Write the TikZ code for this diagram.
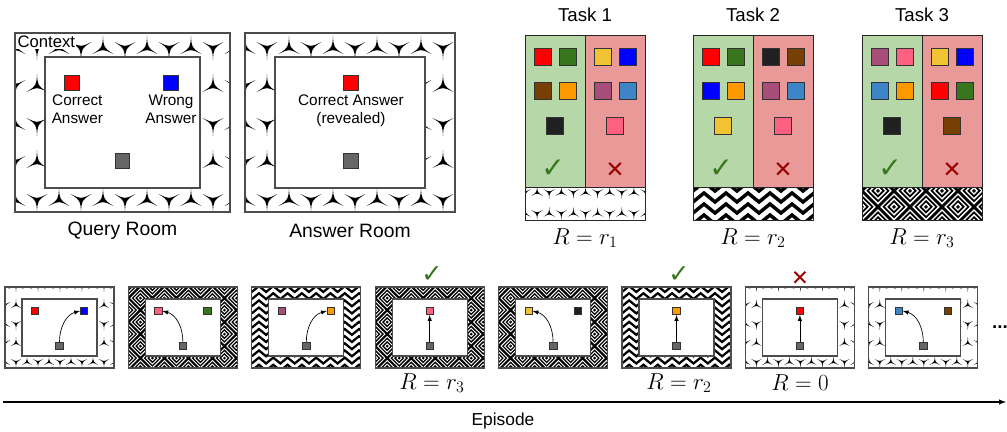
\documentclass[tikz,border=0pt]{standalone}
\usepackage{fontspec}
\setmainfont{Liberation Sans}
\newfontfamily\symfont{DejaVu Sans}
\usetikzlibrary{positioning}

\definecolor{cred}{HTML}{FF0000}
\definecolor{cgreen}{HTML}{38761D}
\definecolor{cbrown}{HTML}{783F04}
\definecolor{corange}{HTML}{FF9900}
\definecolor{cblack}{HTML}{202020}
\definecolor{cyellow}{HTML}{F1C232}
\definecolor{cblue}{HTML}{0000FF}
\definecolor{cpurple}{HTML}{A64D79}
\definecolor{csteel}{HTML}{3D85C6}
\definecolor{cpink}{HTML}{FF607F}
\definecolor{cgray}{HTML}{666666}
\definecolor{okfill}{HTML}{B6D7A8}
\definecolor{badfill}{HTML}{EA9999}
\definecolor{okmark}{HTML}{38761D}
\definecolor{badmark}{HTML}{990000}

% context textures, drawn into the box \bxa,\byt,\bxb,\byb
\newcommand{\patY}[1]{%
  \pgfmathtruncatemacro{\ni}{((\bxb)-(\bxa))/(22*#1)+1}%
  \pgfmathtruncatemacro{\nj}{((\byt)-(\byb))/(38*#1)+1}%
  \foreach \i in {0,...,\ni}{\foreach \j in {0,...,\nj}{%
    \pgfmathsetmacro{\rot}{180*mod(\i+\j,2)}%
    \fill[shift={(\bxa+\i*22*#1,\byb+12*#1+\j*38*#1)},rotate=\rot,scale=#1]
      (90:12) .. controls (150:0.8) .. (210:12) .. controls (270:0.8) .. (330:12) .. controls (30:0.8) .. cycle;
  }}}
\newcommand{\patZ}[1]{%
  \pgfmathtruncatemacro{\ni}{((\bxb)-(\bxa))/(22*#1)+1}%
  \pgfmathtruncatemacro{\nj}{((\byt)-(\byb))/(11*#1)+2}%
  \foreach \j in {0,...,\nj}{%
    \draw[line width=#1*2.6pt] (\bxa,\byb+\j*11*#1-4*#1)
      \foreach \i in {0,...,\ni}{ -- ++(11*#1,9*#1) -- ++(11*#1,-9*#1)};
  }}
\newcommand{\patD}[1]{%
  \pgfmathtruncatemacro{\ni}{((\bxb)-(\bxa))/(40*#1)+1}%
  \pgfmathtruncatemacro{\nj}{((\byt)-(\byb))/(40*#1)+1}%
  \foreach \i in {0,...,\ni}{\foreach \j in {-1,...,\nj}{%
    \foreach \o in {0,20}{
    \foreach \d in {19,13,7,1}
      \draw[line width=#1*1.6pt,shift={(\bxa+\i*40*#1+\o*#1,\byb+\j*40*#1+16.5*#1+\o*#1)},scale=#1]
        (-\d,0) -- (0,-\d) -- (\d,0) -- (0,\d) -- cycle;
  }}}}
\newcommand{\patbox}[5]{%
  \begin{scope}
    \clip (#1,#2) rectangle (#3,#4);
    \def\bxa{#1}\def\byt{#2}\def\bxb{#3}\def\byb{#4}%
    #5
  \end{scope}}
% room with textured wall: x1, ytop, x2, ybot, wall x, wall y, texture
\newcommand{\ctxbox}[7]{%
  \patbox{#1}{#2}{#3}{#4}{#7}
  \fill[white] (#1+#5,#2-#6) rectangle (#3-#5,#4+#6);
  \draw[wall] (#1+#5,#2-#6) rectangle (#3-#5,#4+#6);
  \draw[wall] (#1,#2) rectangle (#3,#4);}

\tikzset{
  wall/.style={draw=black!70,line width=0.9pt},
  panel/.style={draw=black!85,line width=0.6pt},
  sq/.style={draw=black!80,fill=#1,line width=0.6pt,inner sep=0pt,minimum size=12.5pt},
  bsq/.style={sq=#1,minimum size=11pt},
  ssq/.style={sq=#1,minimum size=5.6pt,line width=0.45pt},
  lbl/.style={font=\fontsize{11.5}{13.5}\selectfont,align=center,inner sep=0pt},
  roomname/.style={font=\fontsize{14.5}{17}\selectfont},
  taskname/.style={font=\fontsize{14}{17}\selectfont},
  rew/.style={font=\fontsize{17}{20}\selectfont},
  okmk/.style={text=okmark,font=\symfont\fontsize{#1}{#1}\selectfont,inner sep=0pt},
  badmk/.style={text=badmark,font=\symfont\fontsize{#1}{#1}\selectfont,inner sep=0pt},
  arr/.style={line width=0.5pt},
}

\begin{document}
\begin{tikzpicture}[x=0.75pt,y=0.75pt,>=latex]
\useasboundingbox (0,0) rectangle (1007,-432);

% query room
\ctxbox{15}{-33}{230}{-212}{30}{24}{\patY{1}}
\node[bsq=cred] (qa) at (72,-83) {};
\node[bsq=cblue] (qb) at (171,-83) {};
\node[bsq=cgray] (qs) at (122.5,-161) {};
\node[lbl,below=3pt of qa,xshift=4pt] (qatxt) {Correct\\Answer};
\node[lbl,below=3pt of qb] (qbtxt) {Wrong\\Answer};
\node[anchor=north west,fill=white,inner sep=1pt,font=\fontsize{12.5}{14}\selectfont] (ctx) at (16,-34) {Context};
\node[roomname] (qname) at (122.5,-231) {Query Room};

% answer room
\ctxbox{245}{-33}{455}{-212}{30}{24}{\patY{1}}
\node[bsq=cred] (ra) at (351,-83) {};
\node[bsq=cgray] (rs) at (351,-161) {};
\node[lbl,below=3pt of ra] (ratxt) {Correct Answer\\(revealed)};
\node[roomname] (rname) at (350,-231) {Answer Room};

% tasks
\foreach \t/\x/\pat/\s/\cols/\rl in {
  1/525/Y/0.55/{cred,cgreen,cbrown,corange,cblack,cyellow,cblue,cpurple,csteel,cpink}/r_1,
  2/693/Z/1/{cred,cgreen,cblue,corange,cyellow,cblack,cbrown,cpurple,csteel,cpink}/r_2,
  3/862/D/0.8/{cpurple,cpink,csteel,corange,cblack,cyellow,cblue,cred,cgreen,cbrown}/r_3}{
  \node[taskname] (task\t) at (\x+60,-15) {Task \t};
  \fill[okfill] (\x,-35) rectangle (\x+60,-187);
  \fill[badfill] (\x+60,-35) rectangle (\x+120,-187);
  \draw[panel] (\x,-35) rectangle (\x+120,-187) (\x+60,-35) -- (\x+60,-187);
  \patbox{\x}{-187}{\x+120}{-220}{\csname pat\pat\endcsname{\s}}
  \draw[panel] (\x,-187) rectangle (\x+120,-220);
  \foreach \c [count=\k from 0] in \cols {
    \pgfmathsetmacro{\sx}{{18,43,18,43,30,78,103,78,103,90}[\k]}
    \pgfmathsetmacro{\sy}{{57,57,91,91,126,57,57,91,91,126}[\k]}
    \node[sq=\c] (t\t s\k) at (\x+\sx,-\sy) {};
  }
  \node[okmk=21] (ok\t) at (\x+28,-169) {✓};
  \node[badmk=17] (bad\t) at (\x+90,-170) {✕};
  \node[rew] (rt\t) at (\x+60,-238) {$R=\rl$};
}

% episode: query rooms
\foreach \k/\pat/\s/\lc/\rc/\tgt/\ang/\anc in {
  1/Y/0.5/cred/cblue/r/195/west,
  2/D/0.6/cpink/cgreen/l/-15/east,
  3/Z/0.65/cpurple/corange/r/195/west,
  5/D/0.6/cyellow/cblack/l/-15/east,
  8/Y/0.5/csteel/cbrown/l/-15/east}{
  \pgfmathsetmacro{\x}{5+123.4*(\k-1)}
  \ctxbox{\x}{-287}{\x+109}{-368}{17}{12}{\csname pat\pat\endcsname{\s}}
  \node[ssq=\lc] (l\k) at (\x+30,-311) {};
  \node[ssq=\rc] (r\k) at (\x+79,-311) {};
  \node[ssq=cgray] (g\k) at (\x+54.5,-346) {};
  \draw[->,arr] (g\k.north) to[out=90,in=\ang] (\tgt\k.\anc);
}
% episode: answer rooms
\foreach \k/\pat/\s/\cc in {4/D/0.6/cpink, 6/Z/0.65/corange, 7/Y/0.5/cred}{
  \pgfmathsetmacro{\x}{5+123.4*(\k-1)}
  \ctxbox{\x}{-287}{\x+109}{-368}{17}{12}{\csname pat\pat\endcsname{\s}}
  \node[ssq=\cc] (c\k) at (\x+54.5,-311) {};
  \node[ssq=cgray] (g\k) at (\x+54.5,-346) {};
  \draw[->,arr] (g\k) -- (c\k);
}
\node[okmk=19] (m4) at (432,-275) {✓};
\node[rew] (rw4) at (432,-383) {$R=r_3$};
\node[okmk=19] (m6) at (679,-275) {✓};
\node[rew] (rw6) at (679,-383) {$R=r_2$};
\node[badmk=16] (m7) at (800,-278) {✕};
\node[rew] (rw7) at (800,-383) {$R=0$};
\node[font=\bfseries\fontsize{14}{16}\selectfont] (more) at (1000,-327) {...};

% time axis
\coordinate (tstart) at (3,-402);
\coordinate (tend) at (1006,-402);
\draw[->,line width=0.8pt] (tstart) -- (tend);
\node[font=\fontsize{13}{15}\selectfont] (ep) at (503,-421) {Episode};
\end{tikzpicture}
\end{document}
